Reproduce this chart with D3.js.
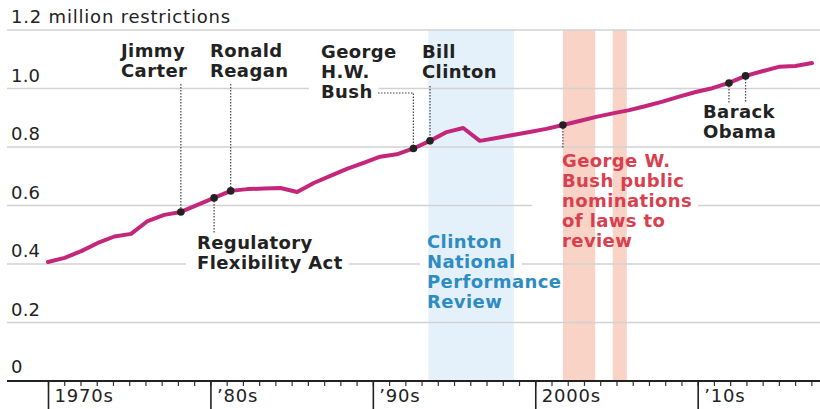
<!DOCTYPE html>
<html>
<head>
<meta charset="utf-8">
<script src="https://cdn.jsdelivr.net/npm/d3@7/dist/d3.min.js"></script>
<style>
  html, body { margin: 0; padding: 0; background: #fff; }
  svg { display: block; }
  text { font-family: "DejaVu Sans", sans-serif; }
</style>
</head>
<body>
<svg id="chart" width="820" height="409"></svg>
<script>
'use strict';

// restrictions in the Code of Federal Regulations, millions
var years = d3.range(1970, 2017);
var restrictions = [
  0.407, 0.421, 0.444, 0.472, 0.494, 0.503, 0.547, 0.568, 0.578, 0.602,
  0.626, 0.650, 0.656, 0.658, 0.660, 0.646, 0.677, 0.701, 0.725, 0.746,
  0.767, 0.775, 0.795, 0.821, 0.851, 0.865, 0.821, 0.831, 0.841, 0.851,
  0.862, 0.875, 0.889, 0.903, 0.915, 0.926, 0.940, 0.955, 0.972, 0.988,
  1.001, 1.019, 1.043, 1.059, 1.074, 1.077, 1.087
];

var yTicks = [0, 0.2, 0.4, 0.6, 0.8, 1.0, 1.2];
var yTickLabels = ['0', '0.2', '0.4', '0.6', '0.8', '1.0', '1.2 million restrictions'];

var decadeTicks = [1970, 1980, 1990, 2000, 2010];
var decadeLabels = ['1970s', '\u201980s', '\u201990s', '2000s', '\u201910s'];

// review periods
var clintonBand = [[1992.9, 1998.05]];
var bushBands = [[2001.0, 2002.95], [2004.0, 2004.85]];

// events marked on the line
var eventYears = [1978, 1980, 1981, 1992, 1993, 2001, 2011, 2012];

var palette = {
  line: '#c4267b',
  grid: '#d2d2d2',
  text: '#222',
  blue: '#2f8cc2',
  red: '#d8404f',
  blueBand: '#e5f1fa',
  redBand: '#f9d3c6'
};

var svg = d3.select('#chart');

var x = d3.scaleLinear().domain([1970, 2016]).range([48, 812]);
var xAxis = d3.scaleLinear().domain([1970, 2017.5]).range([48.5, 820]);
var y = d3.scaleLinear().domain([0, 1.2]).range([381, 30]);

var valueAt = function(yr) {
  return restrictions[years.indexOf(yr)];
};

// bands
svg.append('g').selectAll('rect')
  .data(clintonBand).enter().append('rect')
  .attr('x', function(d) { return x(d[0]); })
  .attr('width', function(d) { return x(d[1]) - x(d[0]); })
  .attr('y', y(1.2))
  .attr('height', y(0) - y(1.2))
  .attr('fill', palette.blueBand);

svg.append('g').selectAll('rect')
  .data(bushBands).enter().append('rect')
  .attr('x', function(d) { return x(d[0]); })
  .attr('width', function(d) { return x(d[1]) - x(d[0]); })
  .attr('y', y(1.2))
  .attr('height', y(0) - y(1.2))
  .attr('fill', palette.redBand);

// gridlines (masked later around the labels)
var defs = svg.append('defs');
var mask = defs.append('mask').attr('id', 'gridmask')
  .attr('maskUnits', 'userSpaceOnUse')
  .attr('x', 0).attr('y', 0).attr('width', 820).attr('height', 409);
mask.append('rect').attr('width', 820).attr('height', 409).attr('fill', '#fff');

svg.append('g')
  .attr('mask', 'url(#gridmask)')
  .selectAll('line')
  .data(yTicks.filter(function(d) { return d > 0; }))
  .enter().append('line')
  .attr('x1', 7).attr('x2', 820)
  .attr('y1', function(d) { return y(d); })
  .attr('y2', function(d) { return y(d); })
  .attr('stroke', palette.grid)
  .attr('stroke-width', 1.5);

// y labels
svg.append('g').selectAll('text')
  .data(yTicks).enter().append('text')
  .attr('x', 11)
  .attr('y', function(d) { return d === 0 ? y(d) - 8 : y(d) - 7; })
  .attr('fill', palette.text)
  .attr('font-size', 18)
  .attr('letter-spacing', function(d, i) { return i === yTicks.length - 1 ? 0.8 : 0.2; })
  .text(function(d, i) { return yTickLabels[i]; });

// x axis
var xg = svg.append('g');
xg.selectAll('line.minor')
  .data(d3.range(1970, 2018)).enter().append('line')
  .attr('class', 'minor')
  .attr('x1', function(d) { return xAxis(d); })
  .attr('x2', function(d) { return xAxis(d); })
  .attr('y1', y(0)).attr('y2', y(0) + 5)
  .attr('stroke', '#333').attr('stroke-width', 1.2);
xg.selectAll('line.major')
  .data(decadeTicks).enter().append('line')
  .attr('class', 'major')
  .attr('x1', function(d) { return xAxis(d); })
  .attr('x2', function(d) { return xAxis(d); })
  .attr('y1', y(0)).attr('y2', 409)
  .attr('stroke', '#222').attr('stroke-width', 1.6);
xg.append('line')
  .attr('x1', 7).attr('x2', 820)
  .attr('y1', y(0)).attr('y2', y(0))
  .attr('stroke', '#222').attr('stroke-width', 2);
xg.selectAll('text')
  .data(decadeTicks).enter().append('text')
  .attr('x', function(d) { return xAxis(d) + 6; })
  .attr('y', 402)
  .attr('fill', palette.text)
  .attr('font-size', 18)
  .attr('letter-spacing', 0.8)
  .text(function(d, i) { return decadeLabels[i]; });

// leader lines
var leaders = svg.append('g')
  .attr('fill', 'none')
  .attr('stroke', '#444')
  .attr('stroke-width', 1.2)
  .attr('stroke-dasharray', '1.5,1.5');

var lead = function(pts) {
  leaders.append('path').attr('d', d3.line()(pts));
};
lead([[x(1978), 84], [x(1978), y(valueAt(1978))]]);
lead([[x(1981), 84], [x(1981), y(valueAt(1981))]]);
lead([[x(1980), y(valueAt(1980))], [x(1980), 234]]);
lead([[378, 93], [x(1992), 93], [x(1992), y(valueAt(1992))]]);
lead([[x(1993), 86], [x(1993), y(valueAt(1993))]]);
lead([[x(2001), y(valueAt(2001))], [x(2001), 149]]);
lead([[x(2011), y(valueAt(2011))], [x(2011), 103]]);
lead([[x(2012), y(valueAt(2012))], [x(2012), 103]]);

// the line
svg.append('path')
  .datum(years)
  .attr('fill', 'none')
  .attr('stroke', palette.line)
  .attr('stroke-width', 4)
  .attr('stroke-linejoin', 'round')
  .attr('stroke-linecap', 'round')
  .attr('d', d3.line()
    .x(function(d) { return x(d); })
    .y(function(d, i) { return y(restrictions[i]); }));

svg.append('g').selectAll('circle')
  .data(eventYears).enter().append('circle')
  .attr('cx', function(d) { return x(d); })
  .attr('cy', function(d) { return y(valueAt(d)); })
  .attr('r', 3.8)
  .attr('fill', '#222');

// annotations
var notes = [
  { lines: ['Jimmy', 'Carter'], x: 121, y: 57, color: palette.text },
  { lines: ['Ronald', 'Reagan'], x: 210, y: 57, color: palette.text },
  { lines: ['George', 'H.W.', 'Bush'], x: 321, y: 58, color: palette.text, mask: 12 },
  { lines: ['Bill', 'Clinton'], x: 422, y: 58, color: palette.text },
  { lines: ['Regulatory', 'Flexibility Act'], x: 197, y: 249, color: palette.text, mask: 11 },
  { lines: ['Clinton', 'National', 'Performance', 'Review'], x: 427, y: 248, color: palette.blue, mask: 7 },
  { lines: ['George W.', 'Bush public', 'nominations', 'of laws to', 'review'], x: 562, y: 167, color: palette.red, mask: 30 },
  { lines: ['Barack', 'Obama'], x: 703, y: 118, color: palette.text }
];

var noteG = svg.append('g');
notes.forEach(function(n) {
  var t = noteG.append('text')
    .attr('x', n.x)
    .attr('y', n.y)
    .attr('fill', n.color)
    .attr('font-size', 18)
    .attr('font-weight', 'bold')
    .attr('letter-spacing', 0.4);
  n.lines.forEach(function(s, i) {
    t.append('tspan').attr('x', n.x).attr('dy', i === 0 ? 0 : 20).text(s);
  });
  if (n.mask) {
    t.selectAll('tspan').each(function() {
      var b = this.getBBox();
      mask.append('rect')
        .attr('x', b.x - n.mask).attr('y', b.y)
        .attr('width', b.width + n.mask + 6).attr('height', b.height)
        .attr('fill', '#000');
    });
  }
});
</script>
</body>
</html>
